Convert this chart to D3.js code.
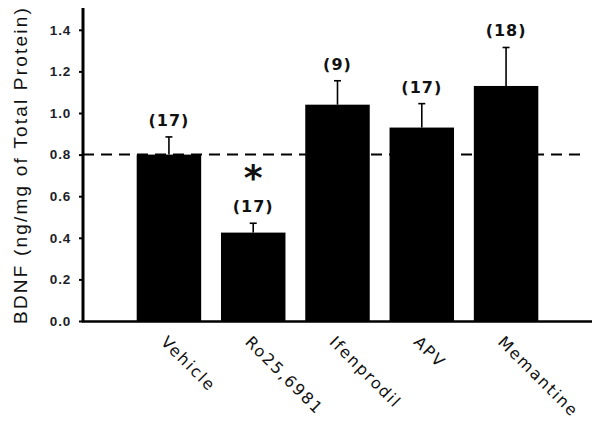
<!DOCTYPE html>
<html>
<head>
<meta charset="utf-8">
<script src="https://cdn.jsdelivr.net/npm/d3@7"></script>
<style>
  body { margin: 0; background: #fff; }
  svg { display: block; }
</style>
</head>
<body>
<svg id="chart" width="600" height="430"></svg>
<script>
const groups = ['Vehicle', 'Ro25,6981', 'Ifenprodil', 'APV', 'Memantine'];
const means = [0.80, 0.425, 1.04, 0.93, 1.13];
const sems = [0.085, 0.045, 0.115, 0.115, 0.185];
const counts = [17, 17, 9, 17, 18];
const significant = [false, true, false, false, false];
const yTicks = [0.0, 0.2, 0.4, 0.6, 0.8, 1.0, 1.2, 1.4];
const controlLevel = 0.8;

const svg = d3.select('#chart');

const x = d3.scaleBand()
  .domain(groups)
  .range([83, 592])
  .paddingInner(0.235)
  .paddingOuter(0.637);

const y = d3.scaleLinear()
  .domain([0, 1.5])
  .range([321, 9]);

// dashed vehicle level
svg.append('line')
  .attr('x1', 83)
  .attr('x2', 586)
  .attr('y1', y(controlLevel))
  .attr('y2', y(controlLevel))
  .attr('stroke', '#000')
  .attr('stroke-width', 2)
  .attr('stroke-dasharray', '11,7');

const rows = groups.map((g, i) => ({ g: g, m: means[i], e: sems[i], n: counts[i], sig: significant[i] }));

svg.selectAll('rect.bar')
  .data(rows)
  .join('rect')
  .attr('class', 'bar')
  .attr('x', d => x(d.g))
  .attr('y', d => y(d.m))
  .attr('width', x.bandwidth())
  .attr('height', d => y(0) - y(d.m))
  .attr('fill', '#000');

// error bars, upper half only
const err = svg.selectAll('g.err')
  .data(rows)
  .join('g')
  .attr('class', 'err')
  .attr('stroke', '#000')
  .attr('stroke-width', 1.6);

err.append('line')
  .attr('x1', d => x(d.g) + x.bandwidth() / 2)
  .attr('x2', d => x(d.g) + x.bandwidth() / 2)
  .attr('y1', d => y(d.m))
  .attr('y2', d => y(d.m + d.e));

err.append('line')
  .attr('x1', d => x(d.g) + x.bandwidth() / 2 - 3.5)
  .attr('x2', d => x(d.g) + x.bandwidth() / 2 + 3.5)
  .attr('y1', d => y(d.m + d.e))
  .attr('y2', d => y(d.m + d.e));

svg.selectAll('text.n')
  .data(rows)
  .join('text')
  .attr('class', 'n')
  .attr('x', d => x(d.g) + x.bandwidth() / 2)
  .attr('y', d => y(d.m + d.e) - 11)
  .attr('text-anchor', 'middle')
  .attr('font-family', 'DejaVu Sans')
  .attr('font-weight', 'bold')
  .attr('font-size', 16)
  .attr('letter-spacing', 1)
  .attr('fill', '#111')
  .text(d => '(' + d.n + ')');

svg.selectAll('text.sig')
  .data(rows.filter(d => d.sig))
  .join('text')
  .attr('class', 'sig')
  .attr('x', d => x(d.g) + x.bandwidth() / 2)
  .attr('y', d => y(d.m + d.e) - 33)
  .attr('text-anchor', 'middle')
  .attr('font-family', 'DejaVu Sans')
  .attr('font-weight', 'bold')
  .attr('font-size', 36)
  .attr('fill', '#111')
  .text('*');

// axes
const yAxis = svg.append('g')
  .attr('transform', 'translate(83,0)')
  .call(d3.axisLeft(y).tickValues(yTicks).tickFormat(d3.format('.1f')).tickSize(4).tickPadding(8));
yAxis.select('.domain').remove();
yAxis.selectAll('.tick line').attr('stroke-width', 2);
yAxis.selectAll('.tick text')
  .attr('font-family', 'Liberation Sans, Arial, sans-serif')
  .attr('font-weight', 'bold')
  .attr('font-size', 13.5)
  .attr('letter-spacing', 0.8)
  .attr('fill', '#1e1e2a');

svg.append('line')
  .attr('x1', 83).attr('x2', 83)
  .attr('y1', 8).attr('y2', 322)
  .attr('stroke', '#000').attr('stroke-width', 3);

svg.append('line')
  .attr('x1', 82).attr('x2', 592)
  .attr('y1', 321.5).attr('y2', 321.5)
  .attr('stroke', '#000').attr('stroke-width', 2.5);

svg.append('text')
  .attr('transform', 'translate(27,165) rotate(-90)')
  .attr('text-anchor', 'middle')
  .attr('font-family', 'Liberation Sans, Arial, sans-serif')
  .attr('font-size', 19)
  .attr('letter-spacing', 2.2)
  .attr('fill', '#111')
  .text('BDNF (ng/mg of Total Protein)');

svg.selectAll('text.cat')
  .data(groups)
  .join('text')
  .attr('class', 'cat')
  .attr('transform', d => 'translate(' + (x(d) + x.bandwidth() / 2 - 9) + ',343) rotate(45)')
  .attr('font-family', 'DejaVu Sans')
  .attr('font-size', 16)
  .attr('letter-spacing', 1.8)
  .attr('fill', '#111')
  .text(d => d);
</script>
</body>
</html>
